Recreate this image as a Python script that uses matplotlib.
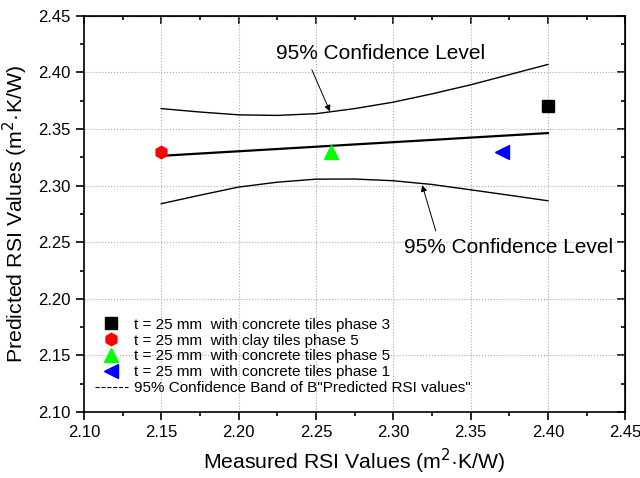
import numpy as np
import matplotlib.pyplot as plt
from matplotlib.lines import Line2D
from matplotlib.ticker import MultipleLocator

plt.rcParams['font.family'] = ['Liberation Sans', 'DejaVu Sans']

# measured vs predicted RSI points
labels = ["t = 25 mm  with concrete tiles phase 3",
          "t = 25 mm  with clay tiles phase 5",
          "t = 25 mm  with concrete tiles phase 5",
          "t = 25 mm  with concrete tiles phase 1"]
measured = [2.40, 2.15, 2.26, 2.37]
predicted = [2.37, 2.33, 2.33, 2.33]
markers = ['s', 'h', '^', '<']
colors = ['black', 'red', '#00ff00', 'blue']
msizes = [8, 9, 10, 10]

# linear fit and 95% band
fit_x = [2.15, 2.40]
fit_y = [2.3263, 2.3464]
band_x = [2.15, 2.175, 2.20, 2.225, 2.25, 2.275, 2.30, 2.325, 2.35, 2.375, 2.40]
band_up = [2.368, 2.365, 2.3625, 2.362, 2.3635, 2.368, 2.3737, 2.381, 2.389, 2.398, 2.407]
band_lo = [2.284, 2.2915, 2.2987, 2.303, 2.3057, 2.3058, 2.3043, 2.301, 2.2963, 2.2915, 2.2866]

# annotation positions (text centre, arrow tail, arrow head)
note_text = '95% Confidence Level'
note_pos = [(2.2919, 2.4167), (2.3745, 2.2455)]
arrow_tail = [(2.2474, 2.4023), (2.3275, 2.2599)]
arrow_head = [(2.2591, 2.3655), (2.3187, 2.3004)]

fig = plt.figure(figsize=(6.4, 4.78), dpi=100)
ax = fig.add_axes([0.131, 0.138, 0.846, 0.829])

ax.plot(fit_x, fit_y, color='black', lw=1.6, zorder=2)
ax.plot(band_x, band_up, color='black', lw=1.0, zorder=2)
ax.plot(band_x, band_lo, color='black', lw=1.0, zorder=2)

handles = []
for i in range(len(labels)):
    h, = ax.plot(measured[i], predicted[i], linestyle='none', marker=markers[i],
                 color=colors[i], markersize=msizes[i], zorder=3, label=labels[i])
    handles.append(h)
handles.append(Line2D([], [], color='black', lw=0.8, linestyle='--',
                      label='95% Confidence Band of B"Predicted RSI values"'))

for i in range(2):
    ax.text(note_pos[i][0], note_pos[i][1], note_text, ha='center', va='center', fontsize=15)
    ax.annotate('', xy=arrow_head[i], xytext=arrow_tail[i],
                arrowprops=dict(arrowstyle='-|>', color='black', lw=0.7,
                                shrinkA=0, shrinkB=0, mutation_scale=9))

ax.set_xlim(2.10, 2.45)
ax.set_ylim(2.10, 2.45)
ax.xaxis.set_major_locator(MultipleLocator(0.05))
ax.yaxis.set_major_locator(MultipleLocator(0.05))
ax.xaxis.set_minor_locator(MultipleLocator(0.025))
ax.yaxis.set_minor_locator(MultipleLocator(0.025))
ax.xaxis.set_major_formatter(lambda v, p: f"{v:.2f}")
ax.yaxis.set_major_formatter(lambda v, p: f"{v:.2f}")
ax.tick_params(which='both', direction='out', top=False, right=False, labelsize=12, width=1.2)
ax.tick_params(which='major', length=6)
ax.tick_params(which='minor', length=3)

# inward ticks on top and right like Origin does
sec_x = ax.secondary_xaxis('top')
sec_x.xaxis.set_major_locator(MultipleLocator(0.05))
sec_x.xaxis.set_minor_locator(MultipleLocator(0.025))
sec_x.tick_params(which='both', direction='in', labeltop=False, width=1.2)
sec_x.tick_params(which='major', length=6)
sec_x.tick_params(which='minor', length=3)
sec_y = ax.secondary_yaxis('right')
sec_y.yaxis.set_major_locator(MultipleLocator(0.05))
sec_y.yaxis.set_minor_locator(MultipleLocator(0.025))
sec_y.tick_params(which='both', direction='in', labelright=False, width=1.2)
sec_y.tick_params(which='major', length=6)
sec_y.tick_params(which='minor', length=3)

for s in ax.spines.values():
    s.set_linewidth(1.2)

ax.grid(True, which='major', linestyle=':', color='#aaaaaa', lw=0.8)
ax.set_xlabel('Measured RSI Values (m$^2$·K/W)', fontsize=15.3, labelpad=5)
ax.set_ylabel('Predicted RSI Values (m$^2$·K/W)', fontsize=15.3, labelpad=6)

ax.legend(handles=handles, loc='upper left', bbox_to_anchor=(0.0, 0.265),
          frameon=False, fontsize=11, handlelength=2.2, handletextpad=0.4,
          labelspacing=0.12, borderaxespad=0.3)

fig.savefig('out.png', dpi=100)
